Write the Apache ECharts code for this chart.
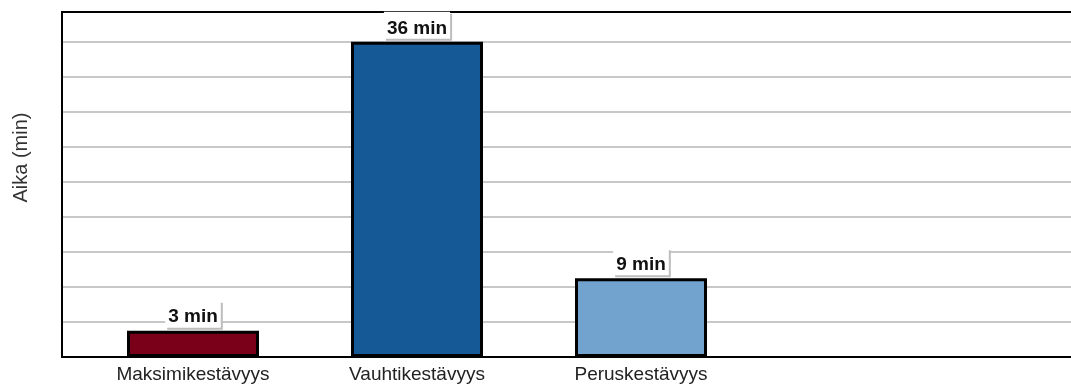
<!DOCTYPE html>
<html>
<head>
<meta charset="utf-8">
<script src="https://cdn.jsdelivr.net/npm/echarts@6/dist/echarts.min.js"></script>
<style>
html,body{margin:0;padding:0;background:#fff;}
#chart{width:1071px;height:385px;}
</style>
</head>
<body>
<div id="chart"></div>
<script>
const categories = ['Maksimikestävyys', 'Vauhtikestävyys', 'Peruskestävyys'];
const values = [3, 36, 9];
const barColors = ['#7a0019', '#155a96', '#72a2ce'];
const yAxisName = 'Aika (min)';
const unit = 'min';

const chart = echarts.init(document.getElementById('chart'), null, {renderer: 'canvas'});
const FONT = '"Liberation Sans", Arial, sans-serif';
chart.setOption({
  animation: false,
  backgroundColor: '#fff',
  grid: [
    {left: 62, top: 12, bottom: 28, width: 1400, show: true, borderColor: '#000', borderWidth: 2,
     backgroundColor: 'transparent', outerBoundsMode: 'none', containLabel: false},
    {left: 81, top: 12, bottom: 28, width: 672, outerBoundsMode: 'none', containLabel: false}
  ],
  xAxis: [
    {gridIndex: 0, type: 'value', min: 0, max: 1, show: false},
    {gridIndex: 1, type: 'category', data: categories,
     axisLine: {show: false}, axisTick: {show: false},
     axisLabel: {fontFamily: FONT, fontSize: 19, color: '#222', margin: 8}}
  ],
  yAxis: [
    {gridIndex: 0, type: 'value', min: 0, max: 39.4, interval: 4,
     name: yAxisName, nameLocation: 'middle', nameGap: 31,
     nameTextStyle: {fontFamily: FONT, fontSize: 20, color: '#333', padding: [0, 0, 0, 54]},
     axisLine: {show: true, lineStyle: {color: '#000', width: 2}},
     axisTick: {show: false}, axisLabel: {show: false},
     splitLine: {show: true, showMinLine: false, showMaxLine: false, lineStyle: {color: '#c8c8c8', width: 2}}},
    {gridIndex: 1, type: 'value', min: 0, max: 39.4, show: false}
  ],
  series: [{
    type: 'bar',
    xAxisIndex: 1, yAxisIndex: 1,
    barWidth: 132,
    data: values.map((v, i) => ({value: v, itemStyle: {color: barColors[i]}})),
    itemStyle: {borderColor: '#000', borderWidth: 3},
    label: {
      show: true, position: 'top', distance: 3,
      formatter: p => p.value + ' ' + unit,
      fontFamily: FONT, fontWeight: 'bold', fontSize: 19, color: '#111',
      backgroundColor: '#fff', padding: [7, 3, 1, 3],
      shadowColor: '#bdbdbd', shadowBlur: 0, shadowOffsetX: 2, shadowOffsetY: 2
    }
  }]
});
</script>
</body>
</html>
